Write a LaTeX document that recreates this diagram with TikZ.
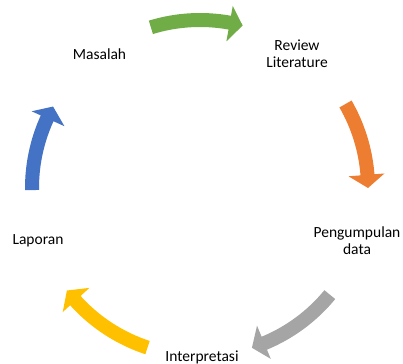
\documentclass[tikz,border=0pt]{standalone}
\usepackage{fontspec}
\setmainfont{Carlito}
\usetikzlibrary{calc}
\definecolor{cgreen}{HTML}{70AD47}
\definecolor{corange}{HTML}{ED7D31}
\definecolor{cgray}{HTML}{A5A5A5}
\definecolor{cyellow}{HTML}{FFC000}
\definecolor{cblue}{HTML}{4472C4}
\newcommand\cyarrow[3]{% colour, tail angle, tip angle
  \pgfmathsetmacro\cyba{#3+4.5}%
  \fill[#1] ($(c)+(#2:175pt)$) arc[start angle=#2, end angle=\cyba, radius=175pt]
    -- ($(c)+(\cyba:185pt)$) -- ($(c)+(#3:168pt)$) -- ($(c)+(\cyba:149pt)$)
    -- ($(c)+(\cyba:161pt)$) arc[start angle=\cyba, end angle=#2, radius=161pt] -- cycle;}
\tikzset{lbl/.style={font=\fontsize{15.5pt}{17pt}\selectfont, text=black, inner sep=0pt, align=center}}
\begin{document}
\begin{tikzpicture}[x=1pt,y=1pt]
\useasboundingbox (0,0) rectangle (403,363);
\coordinate (c) at (200,175);
\cyarrow{cgreen}{107}{75.3}
\cyarrow{corange}{30}{0}
\cyarrow{cgray}{-39.4}{-72}
\cyarrow{cyellow}{251.8}{217.6}
\cyarrow{cblue}{180.7}{151}
\node[lbl, anchor=base] (masalah) at (99.5,303.5) {Masalah};
\node[lbl, anchor=base] (review) at (297,295) {Review\\Literature};
\node[lbl, anchor=base] (pengumpulan) at (357,108.5) {Pengumpulan\\data};
\node[lbl, anchor=base] (interpretasi) at (202,1.3) {Interpretasi};
\node[lbl, anchor=base] (laporan) at (38,118) {Laporan};
\end{tikzpicture}
\end{document}
